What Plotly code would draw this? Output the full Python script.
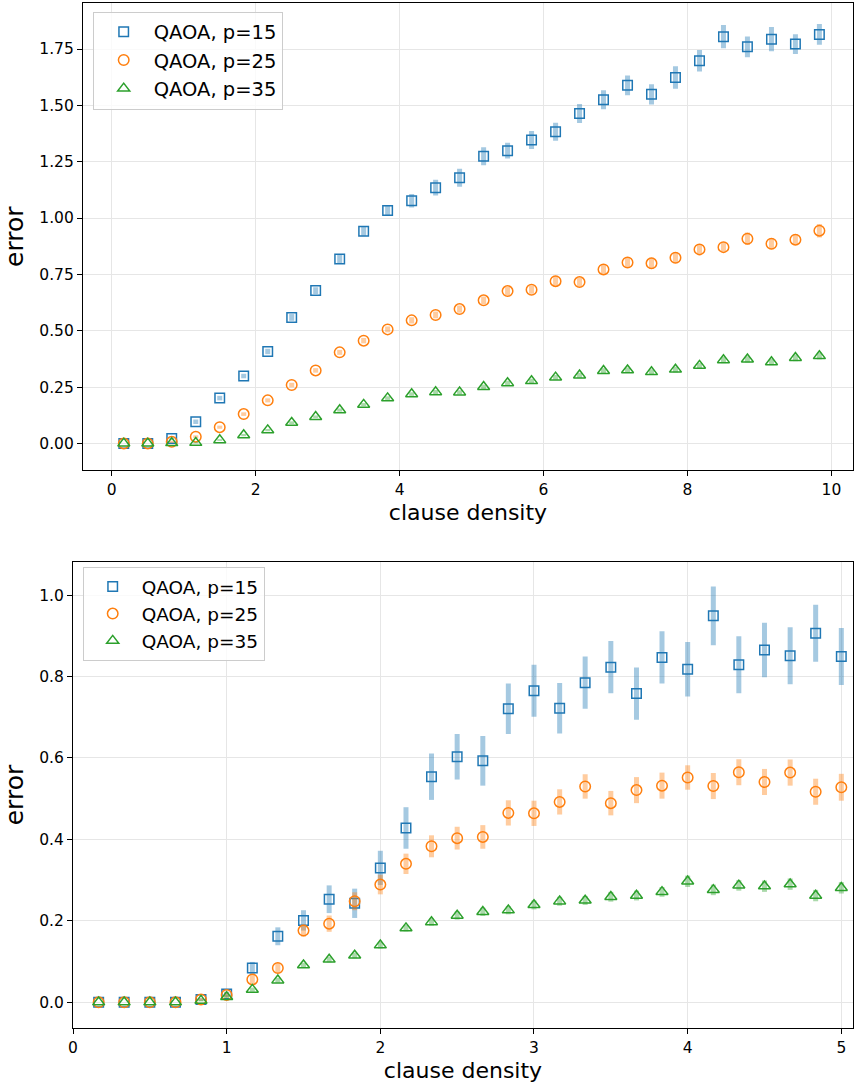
import plotly.graph_objects as go

# ---------------- data: top panel ----------------
x_top = [0.167, 0.5, 0.833, 1.167, 1.5, 1.833, 2.167, 2.5, 2.833, 3.167,
         3.5, 3.833, 4.167, 4.5, 4.833, 5.167, 5.5, 5.833, 6.167, 6.5,
         6.833, 7.167, 7.5, 7.833, 8.167, 8.5, 8.833, 9.167, 9.5, 9.833]

p15_top = [0.0, 0.0, 0.022, 0.096, 0.201, 0.299, 0.408, 0.559, 0.678, 0.818,
           0.941, 1.034, 1.077, 1.135, 1.179, 1.274, 1.299, 1.346, 1.383, 1.464,
           1.525, 1.589, 1.549, 1.624, 1.698, 1.805, 1.760, 1.794, 1.772, 1.815]
p15_top_err = [0.0, 0.0, 0.005, 0.01, 0.01, 0.01, 0.012, 0.015, 0.015, 0.02,
               0.02, 0.022, 0.03, 0.035, 0.04, 0.04, 0.035, 0.04, 0.04, 0.042,
               0.042, 0.044, 0.045, 0.05, 0.048, 0.052, 0.046, 0.054, 0.044, 0.046]

p25_top = [0.0, 0.0, 0.007, 0.030, 0.072, 0.130, 0.191, 0.259, 0.324, 0.404,
           0.456, 0.506, 0.546, 0.570, 0.596, 0.635, 0.676, 0.682, 0.720, 0.716,
           0.772, 0.803, 0.799, 0.824, 0.861, 0.871, 0.908, 0.886, 0.904, 0.944]
p25_top_err = [0.0, 0.0, 0.005, 0.006, 0.007, 0.008, 0.009, 0.01, 0.01, 0.011,
               0.012, 0.013, 0.014, 0.015, 0.016, 0.017, 0.018, 0.018, 0.024, 0.02,
               0.02, 0.022, 0.025, 0.024, 0.022, 0.02, 0.028, 0.024, 0.024, 0.03]

p35_top = [0.0, 0.0, 0.002, 0.003, 0.015, 0.037, 0.059, 0.092, 0.118, 0.148,
           0.172, 0.201, 0.219, 0.228, 0.227, 0.251, 0.268, 0.277, 0.293, 0.302,
           0.322, 0.325, 0.317, 0.328, 0.345, 0.370, 0.373, 0.361, 0.380, 0.388]
p35_top_err = [0.0, 0.0, 0.0, 0.003, 0.004, 0.005, 0.005, 0.006, 0.006, 0.007,
               0.007, 0.008, 0.008, 0.009, 0.009, 0.01, 0.01, 0.01, 0.011, 0.011,
               0.012, 0.012, 0.012, 0.013, 0.013, 0.014, 0.014, 0.014, 0.015, 0.015]

# ---------------- data: bottom panel ----------------
x_bot = [0.167, 0.333, 0.5, 0.667, 0.833, 1.0, 1.167, 1.333, 1.5, 1.667,
         1.833, 2.0, 2.167, 2.333, 2.5, 2.667, 2.833, 3.0, 3.167, 3.333,
         3.5, 3.667, 3.833, 4.0, 4.167, 4.333, 4.5, 4.667, 4.833, 5.0]

p15_bot = [0.0, 0.0, 0.0, 0.0, 0.007, 0.020, 0.084, 0.162, 0.201, 0.253,
           0.243, 0.330, 0.428, 0.554, 0.603, 0.593, 0.721, 0.765, 0.722, 0.785,
           0.823, 0.758, 0.847, 0.818, 0.949, 0.829, 0.865, 0.851, 0.906, 0.849]
p15_bot_err = [0.0, 0.0, 0.0, 0.0, 0.003, 0.006, 0.015, 0.022, 0.025, 0.034,
               0.036, 0.042, 0.051, 0.057, 0.056, 0.061, 0.062, 0.064, 0.062, 0.064,
               0.064, 0.064, 0.064, 0.067, 0.072, 0.070, 0.067, 0.070, 0.070, 0.070]

p25_bot = [0.0, 0.0, 0.0, 0.0, 0.007, 0.018, 0.056, 0.084, 0.176, 0.193,
           0.248, 0.289, 0.340, 0.383, 0.403, 0.406, 0.465, 0.464, 0.492, 0.530,
           0.489, 0.521, 0.532, 0.552, 0.531, 0.565, 0.541, 0.564, 0.517, 0.528]
p25_bot_err = [0.0, 0.0, 0.0, 0.0, 0.003, 0.006, 0.011, 0.012, 0.015, 0.02,
               0.022, 0.024, 0.025, 0.027, 0.028, 0.029, 0.031, 0.031, 0.031, 0.03,
               0.03, 0.032, 0.032, 0.03, 0.032, 0.032, 0.032, 0.032, 0.032, 0.033]

p35_bot = [0.0, 0.0, 0.0, 0.0, 0.004, 0.013, 0.031, 0.054, 0.091, 0.105,
           0.115, 0.140, 0.182, 0.197, 0.213, 0.222, 0.226, 0.239, 0.248, 0.250,
           0.259, 0.262, 0.271, 0.297, 0.276, 0.287, 0.285, 0.290, 0.262, 0.281]
p35_bot_err = [0.0, 0.0, 0.0, 0.0, 0.002, 0.004, 0.005, 0.006, 0.006, 0.007,
               0.007, 0.008, 0.008, 0.009, 0.01, 0.01, 0.01, 0.011, 0.011, 0.011,
               0.012, 0.012, 0.012, 0.014, 0.013, 0.013, 0.014, 0.014, 0.014, 0.014]

labels = ["QAOA, p=15", "QAOA, p=25", "QAOA, p=35"]
y_ticks_top = [0.0, 0.25, 0.5, 0.75, 1.0, 1.25, 1.5, 1.75]
x_ticks_top = [0, 2, 4, 6, 8, 10]
y_ticks_bot = [0.0, 0.2, 0.4, 0.6, 0.8, 1.0]
x_ticks_bot = [0, 1, 2, 3, 4, 5]

# ---------------- style ----------------
colors = ["#1f77b4", "#ff7f0e", "#2ca02c"]
err_colors = ["rgba(31,119,180,0.4)", "rgba(255,127,14,0.4)", "rgba(44,160,44,0.4)"]
symbols = ["square-open", "circle-open", "triangle-up-open"]
sizes = [9.5, 10.5, 10.5]
FONT = "DejaVu Sans"

fig = go.Figure()

top_series = [(p15_top, p15_top_err), (p25_top, p25_top_err), (p35_top, p35_top_err)]
bot_series = [(p15_bot, p15_bot_err), (p25_bot, p25_bot_err), (p35_bot, p35_bot_err)]

for i, (y, e) in enumerate(top_series):
    fig.add_trace(go.Scatter(
        x=x_top, y=y, mode="markers", name=labels[i],
        xaxis="x", yaxis="y", legend="legend",
        marker=dict(symbol=symbols[i], size=sizes[i], color=colors[i],
                    line=dict(width=1.5, color=colors[i])),
        error_y=dict(type="data", array=e, visible=True, color=err_colors[i],
                     thickness=5, width=0),
    ))

for i, (y, e) in enumerate(bot_series):
    fig.add_trace(go.Scatter(
        x=x_bot, y=y, mode="markers", name=labels[i],
        xaxis="x2", yaxis="y2", legend="legend2",
        marker=dict(symbol=symbols[i], size=sizes[i], color=colors[i],
                    line=dict(width=1.5, color=colors[i])),
        error_y=dict(type="data", array=e, visible=True, color=err_colors[i],
                     thickness=5, width=0),
    ))

W, H = 854, 1087

axis_common = dict(
    showline=True, linecolor="black", linewidth=1.1, mirror=True,
    ticks="outside", ticklen=5, tickwidth=1.1, tickcolor="black",
    showgrid=True, gridcolor="#e6e6e6", gridwidth=1, automargin=False,
    zeroline=False, tickfont=dict(family=FONT, size=15.5, color="black"),
)

fig.update_layout(
    width=W, height=H,
    margin=dict(l=0, r=0, t=0, b=0, autoexpand=False),
    paper_bgcolor="white", plot_bgcolor="white",
    font=dict(family=FONT, color="black"),
    xaxis=dict(axis_common, domain=[83 / W, 853 / W], anchor="y",
               range=[-0.40, 10.30], tickvals=x_ticks_top,
               title=dict(text="clause density", font=dict(family=FONT, size=22), standoff=6)),
    yaxis=dict(axis_common, domain=[1 - 470 / H, 1 - 3.3 / H], anchor="x",
               range=[-0.118, 1.953], tickvals=y_ticks_top, tickformat=".2f",
               title=dict(text="error", font=dict(family=FONT, size=25), standoff=8)),
    xaxis2=dict(axis_common, domain=[73 / W, 853 / W], anchor="y2",
                range=[0, 5.076], tickvals=x_ticks_bot,
                title=dict(text="clause density", font=dict(family=FONT, size=22), standoff=6)),
    yaxis2=dict(axis_common, domain=[1 - 1028.3 / H, 1 - 561.7 / H], anchor="x2",
                range=[-0.064, 1.082], tickvals=y_ticks_bot, tickformat=".1f",
                title=dict(text="error", font=dict(family=FONT, size=25), standoff=8)),
    legend=dict(x=92.7 / W, y=1 - 11.5 / H, xanchor="left", yanchor="top",
                bgcolor="rgba(255,255,255,0.8)", bordercolor="#cccccc", borderwidth=1,
                font=dict(family=FONT, size=19.5, color="black"), itemwidth=50),
    legend2=dict(x=82.7 / W, y=1 - 567 / H, xanchor="left", yanchor="top",
                 bgcolor="rgba(255,255,255,0.8)", bordercolor="#cccccc", borderwidth=1,
                 font=dict(family=FONT, size=18.5, color="black"), itemwidth=48),
    showlegend=True,
)

fig.write_html("out.html", config={"displayModeBar": False},
               post_script="document.body.style.margin='0px';document.body.style.overflow='hidden';")
